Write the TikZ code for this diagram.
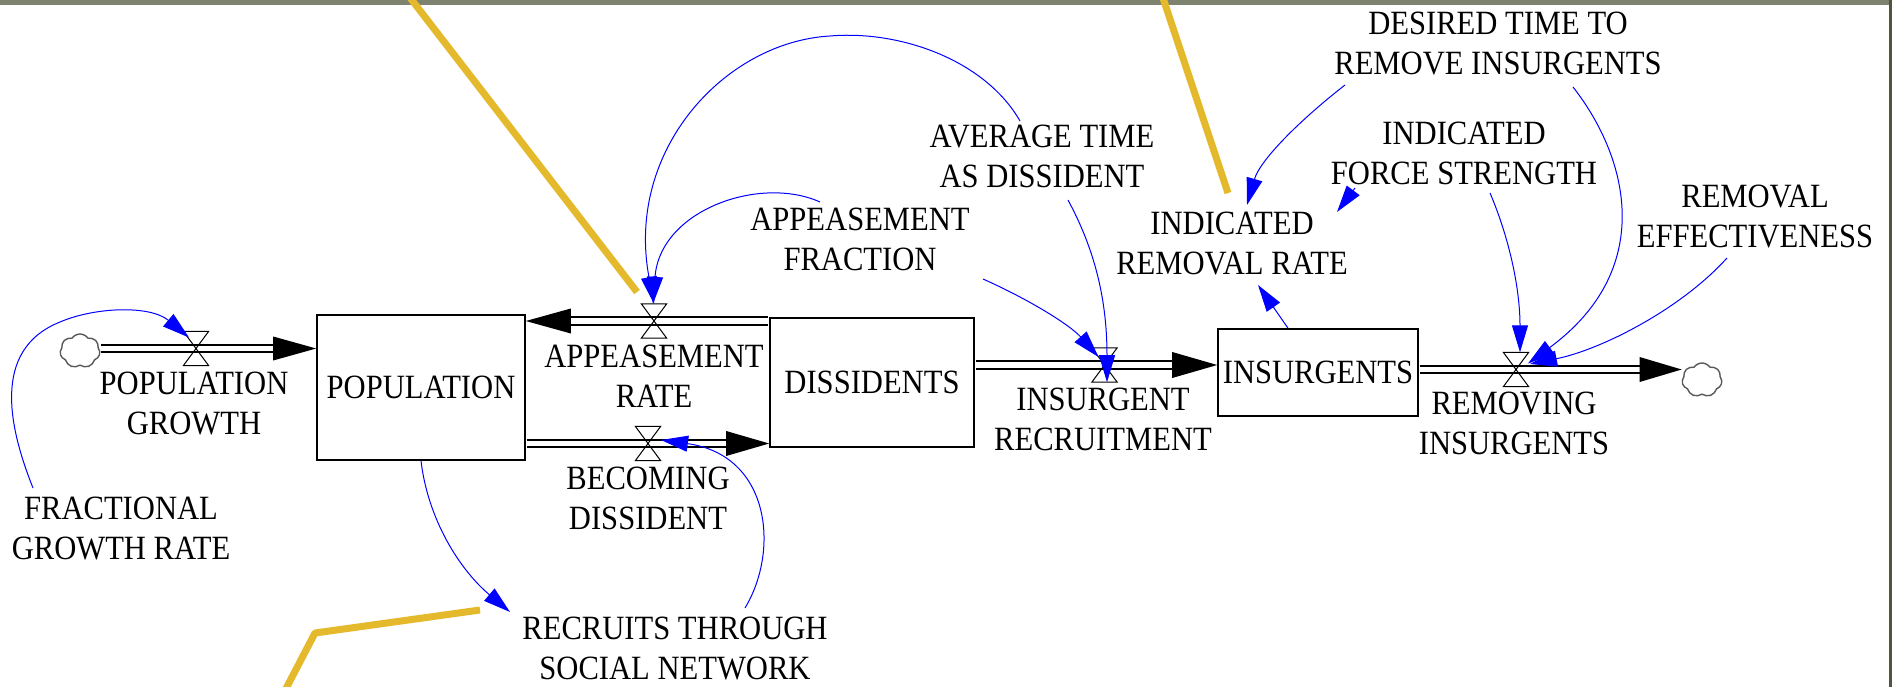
\documentclass[tikz,border=0pt]{standalone}
\usepackage{fontspec}
\setmainfont{Liberation Serif}[FakeStretch=0.9]
\usetikzlibrary{arrows.meta,shapes.symbols}
\definecolor{vblue}{RGB}{0,0,255}
\definecolor{hiyel}{RGB}{228,186,44}
\definecolor{bandgray}{RGB}{126,131,112}
\definecolor{bandgreen}{RGB}{78,86,62}
\begin{document}
\begin{tikzpicture}[x=1pt,y=-1pt,
  lbl/.style={font=\fontsize{34}{40}\selectfont, align=center, inner sep=0pt},
  stock/.style={draw, line width=1.6pt, inner sep=0pt, font=\fontsize{34}{40}\selectfont},
  valve/.style={inner sep=0pt, minimum width=25pt, minimum height=34pt},
  pipe/.style={draw=black, double=white, double distance=5.5pt, line width=1.8pt, shorten <=0.9pt},
  link/.style={draw=vblue, line width=1pt, -{Triangle[length=27pt,width=16pt]}},
  cloudy/.style={cloud, cloud puffs=7, cloud puff arc=110, draw=black!65, line width=1.4pt, inner sep=0pt, minimum width=40pt, minimum height=34pt},
  hl/.style={draw=hiyel, line width=7pt, line join=round}
]
\fill[white] (0,0) rectangle (1892,687);
\useasboundingbox (0,0) rectangle (1892,687);
\fill[bandgray] (0,0) rectangle (1892,5);
\fill[bandgreen] (1889,0) rectangle (1892,687);

% stocks
\node[stock, minimum width=208pt, minimum height=145pt] (pop) at (421,387.5) {POPULATION};
\node[stock, minimum width=204pt, minimum height=129pt] (diss) at (872,382.5) {DISSIDENTS};
\node[stock, minimum width=200pt, minimum height=87pt] (ins) at (1318,372.5) {INSURGENTS};

% clouds
\node[cloudy] (srcPG) at (80,351) {};
\node[cloudy] (sinkRI) at (1702,380) {};

% valves
\node[valve] (vPG) at (196,348.5) {};
\node[valve] (vAR) at (654,321) {};
\node[valve] (vBD) at (648,443.5) {};
\node[valve] (vIR) at (1104.5,365) {};
\node[valve] (vRI) at (1516,369.5) {};

% pipes
\coordinate (pgS) at (srcPG.east |- vPG);
\coordinate (pgE) at (vPG -| pop.west);
\draw[pipe] (pgS) -- ([shift={(-42,0)}]pgE);
\fill (pgE) -- ++(-43,-12) -- ++(0,24) -- cycle;

\coordinate (arS) at (vAR -| diss.west);
\coordinate (arE) at (vAR -| pop.east);
\draw[pipe] (arS) -- ([shift={(44,0)}]arE);
\fill (arE) -- ++(45,-12.5) -- ++(0,25) -- cycle;

\coordinate (bdS) at (vBD -| pop.east);
\coordinate (bdE) at (vBD -| diss.west);
\draw[pipe] (bdS) -- ([shift={(-42,0)}]bdE);
\fill (bdE) -- ++(-43,-12.5) -- ++(0,25) -- cycle;

\coordinate (irS) at (vIR -| diss.east);
\coordinate (irE) at (vIR -| ins.west);
\draw[pipe] (irS) -- ([shift={(-44,0)}]irE);
\fill (irE) -- ++(-45,-13) -- ++(0,26) -- cycle;

\coordinate (riS) at (vRI -| ins.east);
\coordinate (riE) at (vRI -| sinkRI.west);
\draw[pipe] (riS) -- ([shift={(-41,0)}]riE);
\fill (riE) -- ++(-42,-12.5) -- ++(0,25) -- cycle;

\foreach \v in {vPG,vAR,vBD,vIR,vRI}
  \draw[line width=1pt] (\v.north west) -- (\v.north east) -- (\v.south west) -- (\v.south east) -- cycle;

% labels
\node[lbl] (pg) at (194,403.5) {POPULATION\\GROWTH};
\node[lbl] (fgr) at (121,528.5) {FRACTIONAL\\GROWTH RATE};
\node[lbl] (ar) at (654,376.5) {APPEASEMENT\\RATE};
\node[lbl] (bd) at (648,498.5) {BECOMING\\DISSIDENT};
\node[lbl] (rtsn) at (675,648.5) {RECRUITS THROUGH\\SOCIAL NETWORK};
\node[lbl] (apf) at (860,239.5) {APPEASEMENT\\FRACTION};
\node[lbl] (avg) at (1042,156.5) {AVERAGE TIME\\AS DISSIDENT};
\node[lbl] (irec) at (1103,419.5) {INSURGENT\\RECRUITMENT};
\node[lbl] (irr) at (1232,243.5) {INDICATED\\REMOVAL RATE};
\node[lbl] (dtr) at (1498,43.5) {DESIRED TIME TO\\REMOVE INSURGENTS};
\node[lbl] (ifs) at (1464,153.5) {INDICATED\\FORCE STRENGTH};
\node[lbl] (re) at (1755,216.5) {REMOVAL\\EFFECTIVENESS};
\node[lbl] (ri) at (1514,423.5) {REMOVING\\INSURGENTS};

% links
\draw[link] ([shift={(-88,-40.5)}]fgr.center) .. controls (10,430) and (-10,350) .. (60,322) .. controls (95,307) and (150,305) .. ([shift={(-7,-11)}]vPG.center);
\draw[link] ([shift={(-22,-35.5)}]avg.center) .. controls (985,60) and (900,30) .. (830,36) .. controls (725,42) and (625,150) .. (vAR.north);
\draw[link] ([shift={(-40,-37.5)}]apf.center) .. controls (760,175) and (660,210) .. ([shift={(-1,0)}]vAR.north);
\draw[link] ([shift={(26,43.5)}]avg.center) .. controls (1095,250) and (1107,300) .. ([shift={(2.5,0)}]vIR.south);
\draw[link] ([shift={(123,39.5)}]apf.center) .. controls (1030,300) and (1070,325) .. ([shift={(-6,-8)}]vIR.center);
\draw[link] ([shift={(-30,0)}]ins.north) -- ([shift={(26,41.5)}]irr.center);
\draw[link] ([shift={(-153,41.5)}]dtr.center) .. controls (1300,120) and (1260,160) .. ([shift={(15,-38.5)}]irr.center);
\draw[link] ([shift={(-109,34.5)}]ifs.center) -- ([shift={(105,-31.5)}]irr.center);
\draw[link] ([shift={(26,39.5)}]ifs.center) .. controls (1510,240) and (1520,290) .. ([shift={(4,0)}]vRI.north);
\draw[link] ([shift={(75,43.5)}]dtr.center) .. controls (1630,160) and (1655,270) .. ([shift={(12,-6)}]vRI.center);
\draw[link] ([shift={(-28,41.5)}]re.center) .. controls (1680,310) and (1600,350) .. ([shift={(14,-5.5)}]vRI.center);
\draw[link] (pop.south) .. controls (428,520) and (460,570) .. ([shift={(-165,-36.5)}]rtsn.center);
\draw[link] ([shift={(70,-40.5)}]rtsn.center) .. controls (780,550) and (770,455) .. ([shift={(13,-3.5)}]vBD.center);

% highlight lines
\draw[hl] (408,-5) -- (637,292);
\draw[hl] (1162,-5) -- (1228,193);
\draw[hl] (480,610) -- (315,633) -- (280,700);
\end{tikzpicture}
\end{document}
